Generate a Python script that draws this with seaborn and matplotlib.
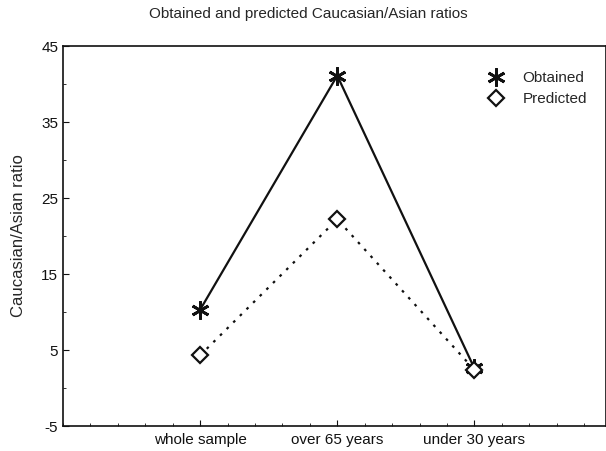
import matplotlib
matplotlib.use("Agg")
import matplotlib.pyplot as plt
from matplotlib.ticker import MultipleLocator
import seaborn as sns
import pandas as pd

categories = ["whole sample", "over 65 years", "under 30 years"]
obtained = [10.3, 41.1, 2.6]
predicted = [4.3, 22.2, 2.4]

sns.set_style("ticks")
plt.rcParams["font.family"] = ["Liberation Sans", "DejaVu Sans"]
plt.rcParams["axes.unicode_minus"] = False

df = pd.DataFrame({
    "pos": [1, 2, 3] * 2,
    "ratio": obtained + predicted,
    "series": ["Obtained"] * 3 + ["Predicted"] * 3,
})

fig = plt.figure(figsize=(6.06, 4.51), dpi=100)
ax = fig.add_axes([0.104, 0.0554, 0.896, 0.8426])

obs = df[df.series == "Obtained"]
pre = df[df.series == "Predicted"]
sns.lineplot(data=obs, x="pos", y="ratio", ax=ax, color="#111111", lw=1.6,
             marker=(6, 2, 0), markersize=13, markeredgewidth=2.0,
             markeredgecolor="#111111", label="Obtained")
sns.lineplot(data=pre, x="pos", y="ratio", ax=ax, color="#111111", lw=1.6,
             linestyle=(0, (1.2, 3)), marker="D", markersize=8,
             markerfacecolor="white", markeredgecolor="#111111",
             markeredgewidth=1.6, label="Predicted")

ax.set_xlim(0, 3.96)
ax.set_ylim(-5, 45)
ax.set_xticks([1, 2, 3])
ax.set_xticklabels(categories, fontsize=11)
ax.set_yticks(range(-5, 46, 10))
ax.yaxis.set_minor_locator(MultipleLocator(5))
ax.xaxis.set_minor_locator(MultipleLocator(0.2))
ax.tick_params(axis="both", which="both", direction="in", labelsize=11,
               colors="#111111")
ax.tick_params(axis="both", which="major", length=4)
ax.tick_params(axis="both", which="minor", length=2)
ax.tick_params(axis="x", which="major", pad=5)
for s in ax.spines.values():
    s.set_visible(True)
    s.set_color("#111111")
    s.set_linewidth(1.2)

ax.set_xlabel("")
ax.set_ylabel("Caucasian/Asian ratio", fontsize=12, labelpad=11)
fig.suptitle("Obtained and predicted Caucasian/Asian ratios", fontsize=11,
             x=0.508, y=0.985, va="top")

leg = ax.legend(loc="upper right", bbox_to_anchor=(0.99, 0.97), frameon=False,
                fontsize=11, handlelength=1.5, handletextpad=1.0,
                labelspacing=0.45)
for h in leg.legend_handles:
    h.set_linestyle("none")

fig.savefig("out.png", dpi=100)
